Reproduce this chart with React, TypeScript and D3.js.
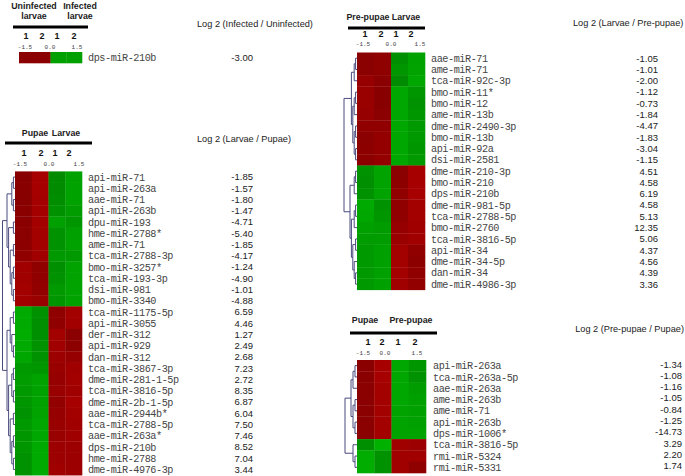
import React from 'react';
import * as d3 from 'd3';

// ---------- shared labels ----------
const colLabels = ['1', '2', '1', '2'];
const scaleTicks = ['-1.5', '0.0', '1.5'];

// ---------- Panel A: infected vs uninfected ----------
const aTitle = 'Log 2 (Infected / Uninfected)';
const aGenes = ['dps-miR-210b'];
const aLog2 = [-3.0];
const aCells = [[0.82, 0.82, -0.94, -0.94]];

// ---------- Panel B: larvae vs pupae ----------
const bTitle = 'Log 2 (Larvae / Pupae)';
const bGenes = [
  'api-miR-71', 'api-miR-263a', 'aae-miR-71', 'api-miR-263b', 'dpu-miR-193', 'hme-miR-2788*',
  'ame-miR-71', 'tca-miR-2788-3p', 'bmo-miR-3257*', 'tca-miR-193-3p', 'dsi-miR-981', 'bmo-miR-3340',
  'tca-miR-1175-5p', 'api-miR-3055', 'der-miR-312', 'api-miR-929', 'dan-miR-312', 'tca-miR-3867-3p',
  'dme-miR-281-1-5p', 'tca-miR-3816-5p', 'dme-miR-2b-1-5p', 'aae-miR-2944b*', 'tca-miR-2788-5p',
  'aae-miR-263a*', 'dps-miR-210b', 'hme-miR-2788', 'dme-miR-4976-3p',
];
const bLog2 = [
  -1.85, -1.57, -1.8, -1.47, -4.71, -5.4, -1.85, -4.17, -1.24, -4.9, -1.01, -4.88,
  6.59, 4.46, 1.27, 2.49, 2.68, 7.23, 2.72, 8.35, 6.87, 6.04, 7.5, 7.46, 8.52, 7.04, 3.44,
];
const bCells = [
  [0.8, 0.98, -0.82, -0.95], [0.8, 0.98, -0.82, -0.95], [0.8, 0.97, -0.83, -0.95],
  [0.81, 0.97, -0.85, -0.92], [0.81, 0.97, -0.94, -0.88], [0.82, 0.96, -0.86, -0.94],
  [0.83, 0.96, -0.86, -0.95], [0.85, 0.94, -0.9, -0.9], [0.94, 0.84, -0.84, -0.96],
  [0.94, 0.85, -0.86, -0.96], [0.96, 0.86, -0.9, -0.96], [0.95, 0.9, -0.88, -0.95],
  [-1.0, -0.85, 0.84, 0.96], [-1.0, -0.84, 0.85, 0.95], [-1.02, -0.84, 0.96, 0.82],
  [-1.0, -0.86, 0.94, 0.83], [-0.98, -0.86, 0.92, 0.88], [-0.9, -0.88, 0.9, 0.94],
  [-0.92, -0.96, 0.88, 0.96], [-0.9, -0.95, 0.9, 0.94], [-0.88, -0.95, 0.86, 0.98],
  [-0.86, -0.96, 0.88, 0.96], [-0.9, -0.98, 0.9, 0.94], [-0.88, -0.98, 0.9, 0.94],
  [-0.88, -1.0, 0.92, 0.92], [-0.86, -1.0, 0.92, 0.92], [-0.86, -1.0, 0.94, 0.92],
];
const bTree = [
  [[[0, 1], [2, 3]], [[4, 5], [[6, 7], [[8, 9], [10, 11]]]]],
  [[[12, 13], [14, [15, 16]]], [[[17, 18], [19, 20]], [[21, 22], [[23, 24], [25, 26]]]]],
];

// ---------- Panel C: larvae vs pre-pupae ----------
const cTitle = 'Log 2 (Larvae / Pre-pupae)';
const cGenes = [
  'aae-miR-71', 'ame-miR-71', 'tca-miR-92c-3p', 'bmo-miR-11*', 'bmo-miR-12', 'ame-miR-13b',
  'dme-miR-2490-3p', 'bmo-miR-13b', 'api-miR-92a', 'dsi-miR-2581', 'dme-miR-210-3p', 'bmo-miR-210',
  'dps-miR-210b', 'dme-miR-981-5p', 'tca-miR-2788-5p', 'bmo-miR-2760', 'tca-miR-3816-5p', 'api-miR-34',
  'dme-miR-34-5p', 'dan-miR-34', 'dme-miR-4986-3p',
];
const cLog2 = [
  -1.05, -1.01, -2.0, -1.12, -0.73, -1.84, -4.47, -1.83, -3.04, -1.15,
  4.51, 4.58, 6.19, 4.58, 5.13, 12.35, 5.06, 4.37, 4.56, 4.39, 3.36,
];
const cCells = [
  [0.82, 0.84, -0.84, -0.95], [0.82, 0.84, -0.88, -0.96], [0.88, 0.82, -0.82, -0.98],
  [0.9, 0.8, -0.98, -0.88], [0.9, 0.8, -0.98, -0.86], [0.88, 0.82, -0.98, -0.88],
  [0.85, 0.85, -0.98, -0.9], [0.82, 0.87, -0.98, -0.9], [0.83, 0.87, -0.98, -0.88],
  [0.83, 0.87, -0.98, -0.9], [-0.86, -0.96, 0.82, 0.98], [-0.84, -0.96, 0.83, 0.98],
  [-0.86, -0.96, 0.85, 0.98], [-1.0, -0.86, 0.85, 0.96], [-0.98, -0.88, 0.85, 0.96],
  [-0.94, -0.92, 0.88, 0.94], [-0.92, -0.92, 0.9, 0.94], [-0.9, -0.94, 0.96, 0.85],
  [-0.9, -0.94, 0.96, 0.83], [-0.9, -0.94, 0.96, 0.85], [-0.9, -0.94, 0.94, 0.86],
];
const cTree = [
  [[[0, 1], 2], [[[3, 4], 5], [[6, 7], [8, 9]]]],
  [[[10, 11], 12], [[[13, 14], 15], [[16, 17], [18, [19, 20]]]]],
];

// ---------- Panel D: pre-pupae vs pupae ----------
const dTitle = 'Log 2 (Pre-pupae / Pupae)';
const dGenes = [
  'api-miR-263a', 'tca-miR-263a-5p', 'aae-miR-263a', 'ame-miR-263b', 'ame-miR-71',
  'api-miR-263b', 'dps-miR-1006*', 'tca-miR-3816-5p', 'rmi-miR-5324', 'rmi-miR-5331',
];
const dLog2 = [-1.34, -1.08, -1.16, -1.05, -0.84, -1.25, -14.73, 3.29, 2.2, 1.74];
const dCells = [
  [0.81, 0.98, -0.98, -0.88], [0.81, 0.98, -0.98, -0.86], [0.82, 0.96, -0.98, -0.92],
  [0.82, 0.96, -0.98, -0.94], [0.82, 0.96, -0.96, -0.94], [0.82, 0.96, -0.96, -0.94],
  [0.82, 0.96, -0.96, -0.96], [-0.84, -1.04, 0.94, 0.92], [-1.02, -0.86, 0.94, 0.94],
  [-1.02, -0.86, 0.94, 0.84],
];
const dTree = [
  [[[0, 1], 2], [[3, 4], [5, 6]]],
  [7, [8, 9]],
];

// ---------- drawing ----------
const color = d3
  .scaleLinear<string>()
  .domain([-1.5, 0, 1.5])
  .range(['#00ff00', '#000000', '#ff0000'])
  .clamp(true);

const SANS = 'Liberation Sans, Arial, sans-serif';
const MONO = 'Liberation Mono, DejaVu Sans Mono, monospace';

function dendroPath(tree: any, yc: (i: number) => number, left: number, rootX: number, innerW: number) {
  const root = d3.hierarchy(tree, (d: any) => (Array.isArray(d) ? d : null));
  const H = root.height;
  const pos = new Map<any, { x: number; y: number }>();
  const p = d3.path();
  root.eachAfter((n: any) => {
    if (!n.children) {
      pos.set(n, { x: left, y: yc(n.data as number) });
    } else {
      const cs = n.children.map((c: any) => pos.get(c)!);
      const nx = n === root ? rootX : left - (n.height / Math.max(1, H - 1)) * innerW;
      const ny = (cs[0].y + cs[cs.length - 1].y) / 2;
      pos.set(n, { x: nx, y: ny });
      p.moveTo(nx, cs[0].y);
      p.lineTo(nx, cs[cs.length - 1].y);
      cs.forEach((c: any) => {
        p.moveTo(nx, c.y);
        p.lineTo(c.x, c.y);
      });
    }
  });
  return p.toString();
}

type HeatProps = {
  genes: string[];
  log2: number[];
  cells: number[][];
  tree?: any;
  left: number;
  right: number;
  top: number;
  rowH: number;
  labelX: number;
  valueX: number;
  valueDy?: number;
  rootX?: number;
  innerW?: number;
};

function Heat(props: HeatProps) {
  const { genes, log2, cells, tree, left, right, top, rowH, labelX, valueX } = props;
  const x = d3.scaleBand<number>().domain(d3.range(4)).range([left, right]);
  const y = d3
    .scaleBand<number>()
    .domain(d3.range(genes.length))
    .range([top, top + rowH * genes.length]);
  const yc = (i: number) => (y(i) as number) + y.bandwidth() / 2;
  return (
    <g>
      {tree && (
        <path
          d={dendroPath(tree, yc, left, props.rootX as number, props.innerW as number)}
          fill="none"
          stroke="#4a4a7e"
          strokeWidth={1}
        />
      )}
      {cells.map((row, i) =>
        row.map((v, j) => (
          <rect
            key={`${i}-${j}`}
            x={x(j)}
            y={y(i)}
            width={x.bandwidth() + 0.3}
            height={y.bandwidth() + 0.3}
            fill={color(v)}
          />
        ))
      )}
      {genes.map((g, i) => (
        <text
          key={g + i}
          x={labelX}
          y={yc(i) + 3.6}
          fontFamily={MONO}
          fontSize={10.2}
          letterSpacing={-0.45}
          fill="#444"
        >
          {g}
        </text>
      ))}
      {log2.map((v, i) => (
        <text
          key={'v' + i}
          x={valueX}
          y={yc(i) + 3.4 + (props.valueDy || 0)}
          textAnchor="end"
          fontFamily={SANS}
          fontSize={9.5}
          fill="#222"
        >
          {v.toFixed(2)}
        </text>
      ))}
    </g>
  );
}

type HeadProps = {
  groups: { t: string; x: number; y: number }[];
  lineY: number;
  lineX1: number;
  lineX2: number;
  numY: number;
  numX: number[];
  scaleY: number;
  scaleX: number[];
  title: string;
  titleX: number;
  titleY: number;
  titleAnchor?: string;
};

function Head(p: HeadProps) {
  return (
    <g>
      {p.groups.map((g, i) => (
        <text key={i} x={g.x} y={g.y} textAnchor="middle" fontFamily={SANS} fontWeight="bold" fontSize={8.8} fill="#222">
          {g.t}
        </text>
      ))}
      <line x1={p.lineX1} x2={p.lineX2} y1={p.lineY} y2={p.lineY} stroke="#000" strokeWidth={3} />
      {colLabels.map((c, i) => (
        <text key={i} x={p.numX[i]} y={p.numY} textAnchor="middle" fontFamily={SANS} fontWeight="bold" fontSize={9} fill="#111">
          {c}
        </text>
      ))}
      {scaleTicks.map((s, i) => (
        <text key={i} x={p.scaleX[i]} y={p.scaleY} textAnchor="middle" fontFamily={MONO} fontSize={6} fill="#444">
          {s}
        </text>
      ))}
      <text
        x={p.titleX}
        y={p.titleY}
        textAnchor={(p.titleAnchor as any) || 'start'}
        fontFamily={SANS}
        fontSize={9.2}
        fill="#222"
      >
        {p.title}
      </text>
    </g>
  );
}

export default function App() {
  return (
    <svg
      width={685}
      height={476}
      viewBox="0 0 685 476"
      style={{ position: 'absolute', left: 0, top: 0, background: '#fff' }}
    >
      <rect width={685} height={476} fill="#fff" />
      {/* Panel A */}
      <Head
        groups={[
          { t: 'Uninfected', x: 34, y: 9 },
          { t: 'larvae', x: 34, y: 19 },
          { t: 'Infected', x: 80, y: 9 },
          { t: 'larvae', x: 80, y: 19 },
        ]}
        lineY={27}
        lineX1={13}
        lineX2={88}
        numY={38.5}
        numX={[26, 42, 57, 74]}
        scaleY={49}
        scaleX={[25, 50, 77]}
        title={aTitle}
        titleX={197}
        titleY={27}
      />
      <Heat genes={aGenes} log2={aLog2} cells={aCells} left={19} right={82} top={52} rowH={11} labelX={88} valueX={253} />

      {/* Panel B */}
      <Head
        groups={[
          { t: 'Pupae', x: 35, y: 136 },
          { t: 'Larvae', x: 66, y: 136 },
        ]}
        lineY={143}
        lineX1={5}
        lineX2={92}
        numY={155.5}
        numX={[24, 41, 55, 69]}
        scaleY={165.5}
        scaleX={[20, 49, 79]}
        title={bTitle}
        titleX={197}
        titleY={142}
      />
      <Heat
        genes={bGenes}
        log2={bLog2}
        cells={bCells}
        tree={bTree}
        left={15}
        right={82}
        top={171.4}
        rowH={11.25}
        labelX={88}
        valueX={253}
        rootX={2.5}
        innerW={8}
      />

      {/* Panel C */}
      <Head
        groups={[
          { t: 'Pre-pupae', x: 368, y: 20 },
          { t: 'Larvae', x: 406, y: 20 },
        ]}
        lineY={28}
        lineX1={348}
        lineX2={425}
        numY={37}
        numX={[365, 381, 396, 411]}
        scaleY={46}
        scaleX={[363, 391, 420]}
        title={cTitle}
        titleX={573}
        titleY={26}
      />
      <Heat
        genes={cGenes}
        log2={cLog2}
        cells={cCells}
        tree={cTree}
        left={357}
        right={425}
        top={52.5}
        rowH={11.3}
        labelX={431}
        valueX={658}
        rootX={344}
        innerW={7}
      />

      {/* Panel D */}
      <Head
        groups={[
          { t: 'Pupae', x: 365, y: 323 },
          { t: 'Pre-pupae', x: 411, y: 323 },
        ]}
        lineY={333}
        lineX1={350}
        lineX2={437}
        numY={345}
        numX={[368, 382, 398, 415]}
        scaleY={355}
        scaleX={[363, 385, 417]}
        title={dTitle}
        titleX={684}
        titleY={332}
        titleAnchor="end"
      />
      <Heat
        genes={dGenes}
        log2={dLog2}
        cells={dCells}
        tree={dTree}
        left={357}
        right={426}
        top={360}
        rowH={11.3}
        labelX={433}
        valueX={682}
        valueDy={-1.5}
        rootX={345}
        innerW={6}
      />
    </svg>
  );
}
